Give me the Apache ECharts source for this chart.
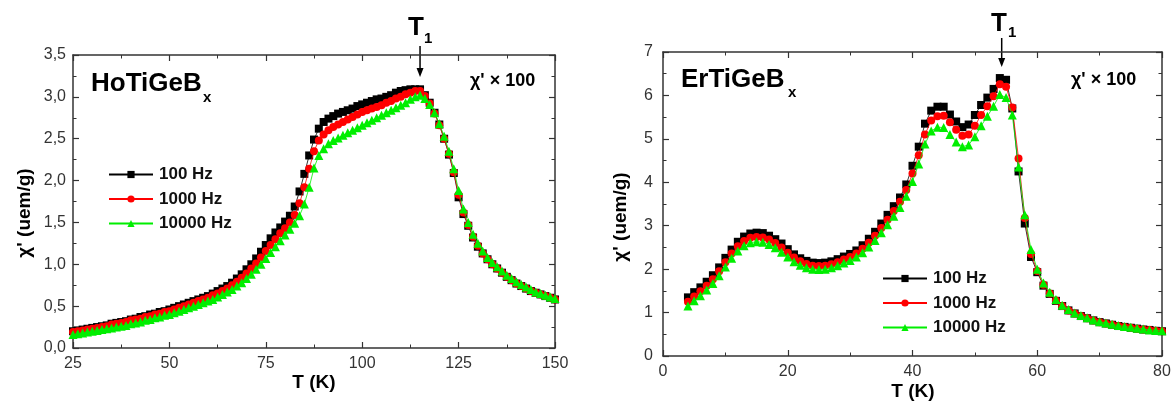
<!DOCTYPE html>
<html><head><meta charset="utf-8">
<script src="https://cdn.jsdelivr.net/npm/echarts@6/dist/echarts.min.js"></script>
<style>html,body{margin:0;padding:0;background:#fff}#c{width:1175px;height:403px}</style>
</head><body><div id="c"></div>
<script>
// ---------- data ----------
const seriesNames = ['100 Hz', '1000 Hz', '10000 Hz'];

// HoTiGeBx panel
const hoT = [25,26.25,27.5,28.75,30,31.25,32.5,33.75,
  35,36.25,37.5,38.75,40,41.25,42.5,43.75,
  45,46.25,47.5,48.75,50,51.25,52.5,53.75,
  55,56.25,57.5,58.75,60,61.25,62.5,63.75,
  65,66.25,67.5,68.75,70,71.25,72.5,73.75,
  75,76.25,77.5,78.75,80,81.25,82.5,83.75,
  85,86.25,87.5,88.75,90,91.25,92.5,93.75,
  95,96.25,97.5,98.75,100,101.25,102.5,103.75,
  105,106.25,107.5,108.75,110,111.25,112.5,113.75,
  115,116.25,117.5,118.75,120,121.25,122.5,123.75,
  125,126.25,127.5,128.75,130,131.25,132.5,133.75,
  135,136.25,137.5,138.75,140,141.25,142.5,143.75,
  145,146.25,147.5,148.75,150];
const ho100 = [0.20,0.21,0.22,0.23,0.24,0.25,0.26,0.27,
  0.29,0.30,0.31,0.32,0.34,0.35,0.37,0.38,
  0.40,0.41,0.43,0.44,0.46,0.48,0.50,0.52,
  0.54,0.56,0.58,0.60,0.62,0.65,0.68,0.71,
  0.74,0.78,0.83,0.88,0.94,1.00,1.07,1.15,
  1.23,1.31,1.38,1.44,1.51,1.58,1.69,1.87,
  2.08,2.30,2.49,2.62,2.70,2.74,2.77,2.80,
  2.82,2.84,2.86,2.89,2.91,2.93,2.95,2.97,
  2.98,3.00,3.02,3.05,3.07,3.08,3.09,3.09,
  3.09,3.02,2.93,2.81,2.67,2.50,2.31,2.09,
  1.80,1.60,1.46,1.32,1.21,1.13,1.06,1.00,
  0.95,0.90,0.85,0.81,0.77,0.74,0.71,0.68,
  0.66,0.64,0.62,0.60,0.58];
const ho1000 = [0.19,0.20,0.21,0.22,0.23,0.24,0.25,0.26,
  0.28,0.29,0.30,0.31,0.33,0.34,0.35,0.37,
  0.38,0.40,0.41,0.43,0.44,0.46,0.48,0.50,
  0.52,0.54,0.56,0.58,0.60,0.63,0.65,0.68,
  0.71,0.75,0.79,0.84,0.89,0.95,1.01,1.08,
  1.16,1.23,1.30,1.37,1.43,1.50,1.59,1.73,
  1.92,2.14,2.35,2.48,2.55,2.60,2.64,2.67,
  2.70,2.73,2.76,2.79,2.82,2.84,2.86,2.88,
  2.90,2.93,2.95,2.98,3.00,3.03,3.05,3.07,
  3.07,3.01,2.92,2.80,2.66,2.50,2.32,2.10,
  1.83,1.62,1.47,1.33,1.22,1.13,1.06,1.00,
  0.95,0.90,0.85,0.81,0.77,0.74,0.71,0.68,
  0.66,0.64,0.62,0.60,0.58];
const ho10000 = [0.16,0.17,0.18,0.19,0.20,0.21,0.22,0.23,
  0.24,0.25,0.26,0.27,0.29,0.30,0.31,0.33,
  0.34,0.36,0.37,0.39,0.40,0.42,0.44,0.46,
  0.48,0.50,0.52,0.54,0.56,0.58,0.61,0.64,
  0.67,0.70,0.74,0.78,0.83,0.88,0.94,1.00,
  1.07,1.14,1.21,1.28,1.35,1.42,1.49,1.58,
  1.72,1.92,2.15,2.30,2.38,2.44,2.48,2.51,
  2.54,2.57,2.60,2.63,2.66,2.69,2.72,2.75,
  2.78,2.81,2.84,2.87,2.90,2.93,2.97,3.00,
  3.02,2.98,2.91,2.81,2.68,2.53,2.35,2.14,
  1.88,1.66,1.50,1.36,1.25,1.16,1.08,1.02,
  0.97,0.92,0.87,0.83,0.79,0.76,0.73,0.70,
  0.67,0.65,0.63,0.61,0.59];
const hoXTicks = [25, 150, 25];     // min, max, interval
const hoYTicks = [0, 3.5, 0.5];
const hoT1 = 115;

// ErTiGeBx panel
const erT = [4,5,6,7,8,9,10,11,12,13,
  14,15,16,17,18,19,20,21,22,23,
  24,25,26,27,28,29,30,31,32,33,
  34,35,36,37,38,39,40,41,42,43,
  44,45,46,47,48,49,50,51,52,53,
  54,55,56,57,58,59,60,61,62,63,
  64,65,66,67,68,69,70,71,72,73,
  74,75,76,77,78,79,80];
const er100 = [1.35,1.47,1.58,1.71,1.86,2.04,2.26,2.45,2.63,2.75,
  2.82,2.84,2.83,2.77,2.69,2.59,2.46,2.34,2.25,2.19,
  2.15,2.14,2.15,2.18,2.23,2.29,2.35,2.43,2.55,2.70,
  2.86,3.05,3.25,3.45,3.65,3.95,4.38,4.82,5.35,5.65,
  5.74,5.74,5.56,5.40,5.27,5.33,5.55,5.78,5.95,6.15,
  6.40,6.36,5.70,4.25,3.05,2.28,1.93,1.62,1.43,1.27,
  1.15,1.05,0.98,0.92,0.87,0.82,0.78,0.75,0.72,0.69,
  0.67,0.65,0.63,0.61,0.60,0.58,0.57];
const er1000 = [1.25,1.37,1.49,1.62,1.77,1.95,2.16,2.36,2.53,2.65,
  2.72,2.74,2.73,2.68,2.60,2.50,2.38,2.27,2.18,2.12,
  2.08,2.07,2.08,2.11,2.16,2.22,2.28,2.36,2.47,2.61,
  2.77,2.95,3.14,3.34,3.55,3.82,4.20,4.62,5.10,5.42,
  5.52,5.53,5.38,5.21,5.07,5.10,5.30,5.55,5.75,5.98,
  6.26,6.20,5.72,4.55,3.18,2.35,1.96,1.64,1.44,1.28,
  1.15,1.05,0.98,0.92,0.87,0.82,0.78,0.75,0.72,0.69,
  0.67,0.65,0.63,0.61,0.60,0.58,0.57];
const er10000 = [1.15,1.27,1.39,1.52,1.67,1.85,2.05,2.25,2.42,2.54,
  2.61,2.63,2.62,2.57,2.49,2.39,2.28,2.17,2.09,2.03,
  2.00,1.99,2.00,2.03,2.08,2.14,2.20,2.28,2.38,2.51,
  2.66,2.84,3.02,3.22,3.42,3.68,4.02,4.42,4.88,5.18,
  5.27,5.26,5.10,4.93,4.82,4.86,5.05,5.30,5.52,5.75,
  6.02,5.95,5.55,4.35,3.25,2.45,2.00,1.68,1.47,1.30,
  1.17,1.07,0.99,0.93,0.88,0.83,0.79,0.76,0.73,0.70,
  0.68,0.66,0.64,0.62,0.60,0.59,0.58];
const erXTicks = [0, 80, 20];
const erYTicks = [0, 7, 1];
const erT1 = 54.3;

// ---------- chart ----------
const FONT = '"Liberation Sans", Arial, sans-serif';
const AX = '#333';
const colors = ['#000000', '#ff0000', '#00ee00'];
const symbols = ['rect', 'circle', 'triangle'];
const symSizes = [8, 8, 9];

const zip = (xs, ys) => xs.map((x, i) => [x, ys[i]]);
const comma = v => (Math.round(v * 10) / 10).toFixed(1).replace('.', ',');

function mkAxis(type, gridIndex, ticks, position, showLabel, fmt, margin) {
  return {
    type: 'value', gridIndex, position,
    min: ticks[0], max: ticks[1], interval: ticks[2],
    axisLine: { show: true, onZero: false, lineStyle: { color: AX, width: 1.5 } },
    axisTick: { show: true, inside: true, length: 6, lineStyle: { color: AX, width: 1.2 } },
    minorTick: { show: true, splitNumber: 2, length: 3.5, lineStyle: { color: AX, width: 1 } },
    splitLine: { show: false },
    axisLabel: { show: showLabel, color: '#333', fontFamily: FONT, fontSize: 16, margin: margin, formatter: fmt,
      showMinLabel: true, showMaxLabel: true },
  };
}

const chart = echarts.init(document.getElementById('c'), null, { renderer: 'canvas' });

const grids = [
  { left: 73, top: 55, width: 482, height: 293 },
  { left: 663, top: 52, width: 499, height: 304 },
];

const xAxes = [
  mkAxis('x', 0, hoXTicks, 'bottom', true, v => String(v), 8),
  mkAxis('x', 0, hoXTicks, 'top', false, null, 8),
  mkAxis('x', 1, erXTicks, 'bottom', true, v => String(v), 8),
  mkAxis('x', 1, erXTicks, 'top', false, null, 8),
];
const yAxes = [
  mkAxis('y', 0, hoYTicks, 'left', true, comma, 7),
  mkAxis('y', 0, hoYTicks, 'right', false, null, 7),
  mkAxis('y', 1, erYTicks, 'left', true, v => String(v), 10),
  mkAxis('y', 1, erYTicks, 'right', false, null, 10),
];

function mkSeries(i, xi, yi, xs, ys) {
  return {
    type: 'line', name: seriesNames[i], xAxisIndex: xi, yAxisIndex: yi,
    data: zip(xs, ys), symbol: symbols[i], symbolSize: symSizes[i], showSymbol: true,
    lineStyle: { color: colors[i], width: 0.8 }, itemStyle: { color: colors[i] },
    z: 2 + i, animation: false, emphasis: { disabled: true }, silent: true,
  };
}

const series = [
  mkSeries(0, 0, 0, hoT, ho100), mkSeries(1, 0, 0, hoT, ho1000), mkSeries(2, 0, 0, hoT, ho10000),
  mkSeries(0, 2, 2, erT, er100), mkSeries(1, 2, 2, erT, er1000), mkSeries(2, 2, 2, erT, er10000),
];

const legendBase = {
  orient: 'vertical', itemWidth: 44, itemHeight: 9, itemGap: 7.5, selectedMode: false,
  textStyle: { fontFamily: FONT, fontSize: 17, fontWeight: 'bold', color: '#111', padding: [0, 0, 0, 1] },
  data: seriesNames,
};

chart.setOption({
  animation: false,
  backgroundColor: '#fff',
  grid: grids,
  xAxis: xAxes,
  yAxis: yAxes,
  legend: [
    Object.assign({}, legendBase, { left: 103, top: 161 }),
    Object.assign({}, legendBase, { left: 877, top: 265 }),
  ],
  series: series,
});

// ---------- annotations ----------
const txt = (x, y, text, size, opts) => Object.assign({
  type: 'text', x, y, silent: true,
  style: { text, font: 'bold ' + size + 'px ' + FONT, fill: '#000', align: 'left', verticalAlign: 'middle' },
}, opts || {});

function arrow(px, y0, y1, headLen) {
  return [
    { type: 'line', silent: true, shape: { x1: px, y1: y0, x2: px, y2: y1 - headLen + 1 }, style: { stroke: '#000', lineWidth: 1.5 } },
    { type: 'polygon', silent: true, shape: { points: [[px - 3.5, y1 - headLen], [px + 3.5, y1 - headLen], [px, y1]] }, style: { fill: '#000' } },
  ];
}

const p1 = chart.convertToPixel({ xAxisIndex: 0, yAxisIndex: 0 }, [hoT1, 0]);
const p2 = chart.convertToPixel({ xAxisIndex: 2, yAxisIndex: 2 }, [erT1, 0]);

const graphics = [
  txt(91, 84, 'HoTiGeB', 26),
  txt(203, 97.5, 'x', 15),
  txt(470, 81, "χ' × 100", 18),
  txt(408, 28, 'T', 26),
  txt(424, 39, '1', 15),
  { type: 'text', x: 314, y: 383, silent: true,
    style: { text: 'T (K)', font: 'bold 19px ' + FONT, fill: '#000', align: 'center', verticalAlign: 'middle' } },
  { type: 'text', x: 25, y: 213, rotation: Math.PI / 2, silent: true,
    style: { text: "χ' (uem/g)", font: 'bold 19px ' + FONT, fill: '#000', align: 'center', verticalAlign: 'middle' } },

  txt(681, 80, 'ErTiGeB', 26),
  txt(788, 93, 'x', 15),
  txt(1071, 80.5, "χ' × 100", 18),
  txt(991, 24, 'T', 26),
  txt(1008, 33, '1', 15),
  { type: 'text', x: 913, y: 392, silent: true,
    style: { text: 'T (K)', font: 'bold 19px ' + FONT, fill: '#000', align: 'center', verticalAlign: 'middle' } },
  { type: 'text', x: 621, y: 217, rotation: Math.PI / 2, silent: true,
    style: { text: "χ' (uem/g)", font: 'bold 19px ' + FONT, fill: '#000', align: 'center', verticalAlign: 'middle' } },
].concat(arrow(p1[0], 46, 77, 9), arrow(p2[0], 38, 67, 9));

chart.setOption({ graphic: graphics });
</script>
</body></html>
